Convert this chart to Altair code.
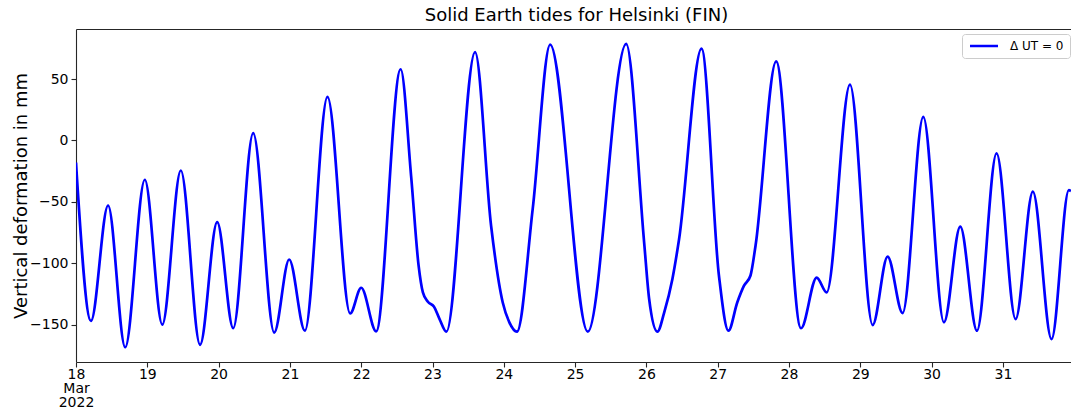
import altair as alt
import pandas as pd
import numpy as np

TITLE = "Solid Earth tides for Helsinki (FIN)"
Y_TITLE = "Vertical deformation in mm"
SERIES = "Δ UT = 0"

# reading times, as fractional day of March 2022
DAY = [18.000, 18.210, 18.450, 18.690, 18.965, 19.210, 19.470, 19.740, 19.980, 20.205,
       20.485, 20.780, 20.990, 21.210, 21.527, 21.845, 22.000, 22.210, 22.553, 22.700,
       22.805, 22.865, 22.935, 23.019, 23.099, 23.195, 23.597, 23.822, 23.985, 24.078,
       24.185, 24.405, 24.650, 25.178, 25.716, 25.968, 26.038, 26.154, 26.250, 26.364,
       26.458, 26.773, 27.017, 27.150, 27.274, 27.367, 27.460, 27.530, 27.820, 28.168,
       28.388, 28.528, 28.855, 29.173, 29.383, 29.593, 29.883, 30.173, 30.402, 30.636,
       30.911, 31.178, 31.420, 31.682, 31.925, 31.955]

# vertical deformation (mm)
DEFORMATION_MM = [-18.0, -147.0, -53.0, -168.5, -32.0, -150.0, -24.5, -166.5, -66.5, -153.0,
                  6.0, -156.5, -97.0, -155.0, 35.5, -141.0, -120.0, -155.5, 58.0, -29.0,
                  -102.0, -123.8, -131.4, -135.2, -145.5, -155.8, 72.0, -69.7, -132.0, -148.2,
                  -155.8, -56.0, 78.0, -155.8, 78.6, -83.0, -129.0, -155.8, -140.0, -113.0,
                  -80.5, 74.8, -110.0, -155.0, -132.0, -118.5, -110.0, -86.0, 64.5, -153.0,
                  -111.7, -123.8, 45.5, -150.4, -94.6, -140.7, 19.2, -148.2, -70.2, -155.0,
                  -10.6, -145.5, -41.7, -161.8, -40.4, -41.2]

TICK_DAYS = list(range(18, 32))
Y_TICKS = [-150, -100, -50, 0, 50]

times = pd.Timestamp("2022-03-01") + pd.to_timedelta(np.array(DAY) - 1.0, unit="D")
df = pd.DataFrame({"t": times.strftime("%Y-%m-%dT%H:%M:%S"),
                   "v": DEFORMATION_MM,
                   "series": SERIES})

FONT = "DejaVu Sans"
SPINE = "#262626"

xscale = alt.Scale(domain=[alt.DateTime(year=2022, month=3, date=18),
                           alt.DateTime(year=2022, month=3, date=31, hours=22, minutes=55)],
                   nice=False)
yscale = alt.Scale(domain=[-180.5, 90.8], nice=False, zero=False)

x_axis = alt.Axis(
    values=[alt.DateTime(year=2022, month=3, date=d) for d in TICK_DAYS],
    labelExpr="date(datum.value) == 18 ? ['18', 'Mar', '2022'] : timeFormat(datum.value, '%d')",
    labelFont=FONT, labelFontSize=14, labelColor="black",
    labelAlign="center", labelBaseline="top", labelPadding=0.5,
    labelLineHeight=14, labelFlush=False, labelOverlap=False, labelBound=False,
    tickSize=5, tickColor=SPINE, tickWidth=1.1,
    domainColor=SPINE, domainWidth=1.1, grid=False, title=None,
)

y_axis = alt.Axis(
    values=Y_TICKS, format="d",
    labelFont=FONT, labelFontSize=14, labelColor="black", labelPadding=3,
    tickSize=5, tickColor=SPINE, tickWidth=1.1,
    domainColor=SPINE, domainWidth=1.1, grid=False,
    title=Y_TITLE, titleFont=FONT, titleFontSize=18, titleFontWeight="normal",
    titleColor="black", titleX=-55, titleY=166.5, titleBaseline="middle",
    titleAlign="center", titleAngle=270,
)

line = alt.Chart(df).mark_line(
    interpolate="monotone", strokeWidth=2.7, clip=True
).encode(
    x=alt.X("t:T", scale=xscale, axis=x_axis),
    y=alt.Y("v:Q", scale=yscale, axis=y_axis),
    color=alt.Color("series:N",
                    scale=alt.Scale(domain=[SERIES], range=["#0000ff"]),
                    legend=alt.Legend(
                        title=None, orient="none", legendX=886, legendY=5,
                        symbolType="M-1,0H6", symbolSize=64, symbolStrokeWidth=2.5,
                        labelFont=FONT, labelFontSize=12, labelColor="black",
                        labelOffset=30, padding=6, fillColor="white",
                        strokeColor="#cccccc", cornerRadius=3)),
)

top_spine = alt.Chart(df).mark_line(strokeOpacity=0, clip=True).encode(
    x=alt.X("t:T", scale=xscale,
            axis=alt.Axis(orient="top", labels=False, ticks=False, grid=False,
                          domainColor=SPINE, domainWidth=1.1, title=None)),
    y=alt.Y("v:Q", scale=yscale, axis=None),
)

chart = alt.layer(line, top_spine).resolve_axis(
    x="independent", y="independent"
).properties(
    width=995, height=333,
    padding={"left": 76, "top": 29, "right": 0, "bottom": 48},
    autosize=alt.AutoSizeParams(type="none"),
    background="white",
    title=alt.TitleParams(text=TITLE, font=FONT, fontSize=18, fontWeight="normal",
                          color="black", anchor="middle", offset=4, dx=3),
).configure_view(stroke="transparent")

chart.save("out.html", embed_options={"renderer": "svg", "actions": False})
